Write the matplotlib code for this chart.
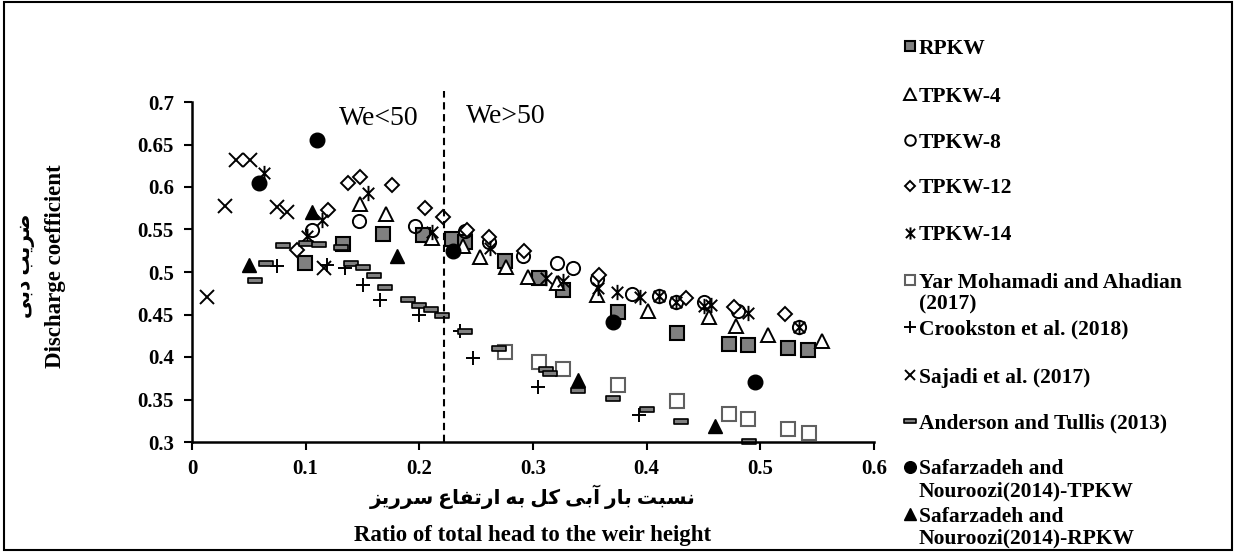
import matplotlib
matplotlib.use("Agg")
import matplotlib.pyplot as plt
from matplotlib.lines import Line2D
from matplotlib.patches import Rectangle
from matplotlib.path import Path
from matplotlib.ticker import FuncFormatter

plt.rcParams["font.family"] = ["Liberation Serif", "DejaVu Sans"]

# ---- data ----
rpkw_x = [0.0995, 0.133, 0.168, 0.203, 0.229, 0.240, 0.275, 0.305, 0.326, 0.375, 0.427, 0.472, 0.489, 0.524, 0.542]
rpkw_y = [0.511, 0.533, 0.545, 0.544, 0.539, 0.535, 0.513, 0.493, 0.479, 0.453, 0.428, 0.415, 0.414, 0.411, 0.408]

tp4_x = [0.148, 0.171, 0.211, 0.238, 0.253, 0.276, 0.296, 0.321, 0.356, 0.401, 0.455, 0.479, 0.507, 0.554]
tp4_y = [0.580, 0.568, 0.540, 0.531, 0.518, 0.506, 0.494, 0.487, 0.473, 0.454, 0.447, 0.436, 0.426, 0.419]

tp8_x = [0.106, 0.147, 0.196, 0.240, 0.261, 0.291, 0.321, 0.335, 0.356, 0.387, 0.411, 0.426, 0.450, 0.480, 0.534]
tp8_y = [0.549, 0.560, 0.554, 0.548, 0.535, 0.519, 0.511, 0.505, 0.492, 0.474, 0.472, 0.465, 0.465, 0.454, 0.435]

tp12_x = [0.0925, 0.120, 0.137, 0.148, 0.176, 0.205, 0.221, 0.242, 0.261, 0.292, 0.358, 0.435, 0.477, 0.522]
tp12_y = [0.526, 0.573, 0.605, 0.612, 0.602, 0.575, 0.565, 0.549, 0.541, 0.525, 0.496, 0.469, 0.459, 0.451]

tp14_x = [0.063, 0.101, 0.114, 0.155, 0.211, 0.262, 0.311, 0.326, 0.357, 0.374, 0.394, 0.411, 0.426, 0.450, 0.457, 0.489, 0.534]
tp14_y = [0.617, 0.542, 0.561, 0.593, 0.547, 0.528, 0.493, 0.489, 0.481, 0.477, 0.471, 0.472, 0.465, 0.460, 0.461, 0.452, 0.435]

yar_x = [0.275, 0.305, 0.326, 0.375, 0.427, 0.472, 0.489, 0.524, 0.543]
yar_y = [0.406, 0.394, 0.386, 0.367, 0.348, 0.333, 0.327, 0.315, 0.311]

crook_x = [0.075, 0.119, 0.135, 0.150, 0.165, 0.200, 0.236, 0.247, 0.304, 0.393]
crook_y = [0.507, 0.508, 0.505, 0.485, 0.467, 0.449, 0.431, 0.399, 0.365, 0.332]

sajadi_x = [0.013, 0.029, 0.039, 0.051, 0.075, 0.084, 0.116]
sajadi_y = [0.471, 0.578, 0.632, 0.632, 0.577, 0.571, 0.505]

anderson_x = [0.055, 0.065, 0.080, 0.100, 0.112, 0.131, 0.140, 0.150, 0.160, 0.170, 0.190, 0.200,
              0.210, 0.220, 0.240, 0.270, 0.311, 0.315, 0.340, 0.370, 0.400, 0.430, 0.490]
anderson_y = [0.491, 0.511, 0.532, 0.534, 0.533, 0.530, 0.511, 0.506, 0.496, 0.482, 0.468, 0.461,
              0.456, 0.450, 0.431, 0.411, 0.386, 0.381, 0.361, 0.352, 0.339, 0.325, 0.301]

saf_t_x = [0.059, 0.110, 0.230, 0.370, 0.495]
saf_t_y = [0.605, 0.655, 0.525, 0.441, 0.371]

saf_r_x = [0.050, 0.106, 0.180, 0.340, 0.460]
saf_r_y = [0.508, 0.571, 0.519, 0.373, 0.319]

labels = ["RPKW", "TPKW-4", "TPKW-8", "TPKW-12", "TPKW-14",
          "Yar Mohamadi and Ahadian\n(2017)", "Crookston et al. (2018)",
          "Sajadi et al. (2017)", "Anderson and Tullis (2013)",
          "Safarzadeh and\nNouroozi(2014)-TPKW", "Safarzadeh and\nNouroozi(2014)-RPKW"]

xticks = [0, 0.1, 0.2, 0.3, 0.4, 0.5, 0.6]
yticks = [0.3, 0.35, 0.4, 0.45, 0.5, 0.55, 0.6, 0.65, 0.7]
we_split = 0.222

ylabel_fa = "ضریب دبی"
ylabel_en = "Discharge coefficient"
xlabel_fa = "نسبت بار آبی کل به ارتفاع سرریز"
xlabel_en = "Ratio of total head to the weir height"

# ---- minimal Persian shaping (matplotlib has no bidi / joining) ----
FORMS = {
    "ا": ("\uFE8D", "\uFE8E", None, None), "آ": ("\uFE81", "\uFE82", None, None),
    "ب": ("\uFE8F", "\uFE90", "\uFE91", "\uFE92"), "ت": ("\uFE95", "\uFE96", "\uFE97", "\uFE98"),
    "د": ("\uFEA9", "\uFEAA", None, None), "ر": ("\uFEAD", "\uFEAE", None, None),
    "ز": ("\uFEAF", "\uFEB0", None, None), "س": ("\uFEB1", "\uFEB2", "\uFEB3", "\uFEB4"),
    "ض": ("\uFEBD", "\uFEBE", "\uFEBF", "\uFEC0"), "ع": ("\uFEC9", "\uFECA", "\uFECB", "\uFECC"),
    "ف": ("\uFED1", "\uFED2", "\uFED3", "\uFED4"), "ک": ("\uFB8E", "\uFB8F", "\uFB90", "\uFB91"),
    "ل": ("\uFEDD", "\uFEDE", "\uFEDF", "\uFEE0"), "ن": ("\uFEE5", "\uFEE6", "\uFEE7", "\uFEE8"),
    "ه": ("\uFEE9", "\uFEEA", "\uFEEB", "\uFEEC"), "ی": ("\uFBFC", "\uFBFD", "\uFBFE", "\uFBFF"),
}


def shape_fa(text):
    out = []
    for i, ch in enumerate(text):
        if ch not in FORMS:
            out.append(ch)
            continue
        prev = text[i - 1] if i > 0 else None
        nxt = text[i + 1] if i + 1 < len(text) else None
        jp = prev in FORMS and FORMS[prev][2] is not None
        jn = nxt in FORMS and FORMS[ch][2] is not None
        iso, fin, ini, med = FORMS[ch]
        if jp and jn:
            out.append(med)
        elif jp:
            out.append(fin)
        elif jn:
            out.append(ini)
        else:
            out.append(iso)
    return "".join(out)[::-1]


W, H = 1236, 552
fig = plt.figure(figsize=(W / 100, H / 100), dpi=100)
ax = fig.add_axes([192 / W, 1 - 442 / H, (874 - 192) / W, (442 - 102) / H])


def fx(px):
    return px / W


def fy(py):
    return 1 - py / H


dash = Path([(-1, -0.36), (1, -0.36), (1, 0.36), (-1, 0.36), (-1, -0.36)],
            [Path.MOVETO, Path.LINETO, Path.LINETO, Path.LINETO, Path.CLOSEPOLY])
# Excel-style star: an x with a vertical bar through it
star = Path([(0, -1), (0, 1), (-0.75, -0.75), (0.75, 0.75), (-0.75, 0.75), (0.75, -0.75)],
            [Path.MOVETO, Path.LINETO] * 3)

styles = [
    dict(marker="s", ms=9.5, mfc="#808080", mec="black", mew=1.5),
    dict(marker="^", ms=10, mfc="white", mec="black", mew=1.4),
    dict(marker="o", ms=9.5, mfc="none", mec="black", mew=1.4),
    dict(marker="D", ms=7, mfc="white", mec="black", mew=1.4),
    dict(marker=star, ms=11, mfc="none", mec="black", mew=1.4),
    dict(marker="s", ms=9.5, mfc="white", mec="#606060", mew=1.5),
    dict(marker="+", ms=10, mfc="none", mec="black", mew=1.4),
    dict(marker="x", ms=9.5, mfc="none", mec="black", mew=1.4),
    dict(marker=dash, ms=10, mfc="#808080", mec="black", mew=1.2),
    dict(marker="o", ms=10.5, mfc="black", mec="black", mew=1),
    dict(marker="^", ms=10.5, mfc="black", mec="black", mew=1),
]
series = [(rpkw_x, rpkw_y), (tp4_x, tp4_y), (tp8_x, tp8_y), (tp12_x, tp12_y), (tp14_x, tp14_y),
          (yar_x, yar_y), (crook_x, crook_y), (sajadi_x, sajadi_y), (anderson_x, anderson_y),
          (saf_t_x, saf_t_y), (saf_r_x, saf_r_y)]

for (xs, ys), st in zip(series, styles):
    ax.plot(xs, ys, ls="none", clip_on=False, **st)

ax.plot([we_split, we_split], [0.3, 0.713], color="black", lw=1.5, ls="--",
        dashes=(3.5, 2.2), clip_on=False)
ax.text(0.1645, 0.681, "We<50", fontsize=20, ha="center", va="center")
ax.text(0.276, 0.6835, "We>50", fontsize=20, ha="center", va="center")

ax.set_xlim(0, 0.6)
ax.set_ylim(0.3, 0.7)
ax.set_xticks(xticks)
ax.set_yticks(yticks)
ax.xaxis.set_major_formatter(FuncFormatter(lambda v, p: f"{v:g}"))
ax.yaxis.set_major_formatter(FuncFormatter(lambda v, p: f"{v:g}"))
for lab in ax.get_xticklabels() + ax.get_yticklabels():
    lab.set_fontweight("bold")
    lab.set_fontsize(15)
ax.tick_params(axis="both", direction="out", length=6, width=1.5, color="black")
ax.tick_params(axis="x", pad=6)
ax.tick_params(axis="y", pad=7)
for side in ["top", "right"]:
    ax.spines[side].set_visible(False)
for side in ["left", "bottom"]:
    ax.spines[side].set_linewidth(1.8)

# axis titles
fig.text(fx(55), fy(266), ylabel_en, rotation=90, ha="center", va="center",
         fontsize=16.5, fontweight="bold")
fig.text(fx(25), fy(266), shape_fa(ylabel_fa), rotation=90, ha="center", va="center",
         fontsize=14.5, fontweight="bold")
fig.text(fx(533), fy(497), shape_fa(xlabel_fa), ha="center", va="center",
         fontsize=14.5, fontweight="bold")
fig.text(fx(533), fy(536), xlabel_en, ha="center", va="center",
         fontsize=16.5, fontweight="bold")

# legend, drawn entry by entry on the figure
leg_y = [46, 94, 140, 186, 233, 280, 327, 375, 421, 467, 514]
for lab, st, y0 in zip(labels, styles, leg_y):
    lst = dict(st)
    lst["ms"] = st["ms"] * 0.8
    fig.add_artist(Line2D([fx(910)], [fy(y0)], transform=fig.transFigure, ls="none", **lst))
    for k, line in enumerate(lab.split("\n")):
        fig.text(fx(919), fy(y0 + 21.5 * k), line, ha="left", va="center_baseline",
                 fontsize=15.5, fontweight="bold")

# outer frame
fig.add_artist(Rectangle((fx(4), fy(550)), fx(1232) - fx(4), fy(2) - fy(550),
                         transform=fig.transFigure, fill=False, lw=1.5, ec="black"))

fig.savefig("out.png", dpi=100)
